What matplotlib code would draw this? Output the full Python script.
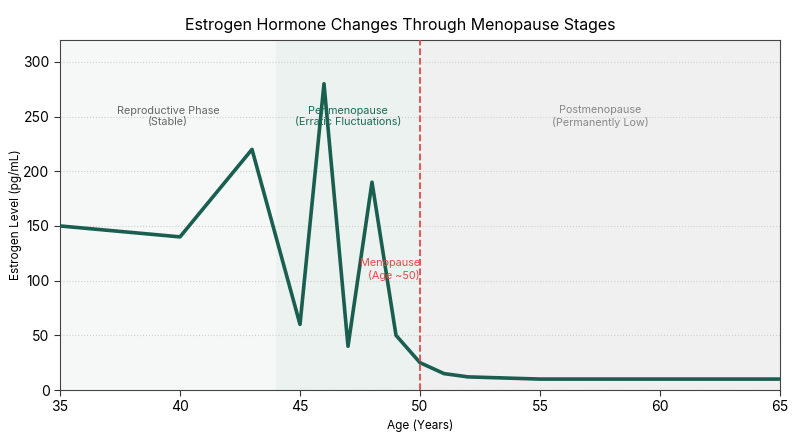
import matplotlib.pyplot as plt

plt.rcParams['font.family'] = ['Inter', 'DejaVu Sans']

# data
ages = [35, 40, 43, 45, 46, 47, 48, 49, 50, 51, 52, 55, 60, 65]
estrogen = [150, 140, 220, 60, 280, 40, 190, 50, 25, 15, 12, 10, 10, 10]

phases = [(35, 44, '#f5f8f7'), (44, 50, '#ebf2ef'), (50, 65, '#f0f0f0')]
phase_labels = ['Reproductive Phase\n(Stable)', 'Perimenopause\n(Erratic Fluctuations)',
                'Postmenopause\n(Permanently Low)']
label_x = [39.5, 47, 57.5]
label_colors = ['#666666', '#1b6b55', '#888888']

fig = plt.figure(figsize=(8, 4.4), dpi=100)
ax = fig.add_axes([0.075, 0.1136, 0.9, 0.7955])

for (a, b, c) in phases:
    ax.axvspan(a, b, color=c, zorder=0, lw=0)

ax.grid(axis='y', linestyle=':', color='#d0d0d0', lw=0.8, zorder=1)
ax.set_axisbelow(True)

ax.plot(ages, estrogen, color='#1a5e4f', lw=2.6, zorder=3)
ax.axvline(50, color='#e84848', ls='--', lw=1.3, zorder=4)

for x, t, c in zip(label_x, phase_labels, label_colors):
    ax.text(x, 250, t, ha='center', va='center', fontsize=7.8, color=c, zorder=5)
ax.text(50, 110, 'Menopause\n(Age ~50)', ha='right', va='center', fontsize=7.8,
        color='#e84848', zorder=5)

ax.set_xlim(35, 65)
ax.set_ylim(0, 320)
ax.set_xticks([35, 40, 45, 50, 55, 60, 65])
ax.set_yticks([0, 50, 100, 150, 200, 250, 300])
ax.tick_params(labelsize=10, color='#333333', length=4)
ax.set_xlabel('Age (Years)', fontsize=8.5)
ax.set_ylabel('Estrogen Level (pg/mL)', fontsize=8.5, labelpad=1)
for s in ax.spines.values():
    s.set_color('#444444')

fig.suptitle('Estrogen Hormone Changes Through Menopause Stages', fontsize=11.5, y=0.96)

fig.savefig('out.png', dpi=100)
